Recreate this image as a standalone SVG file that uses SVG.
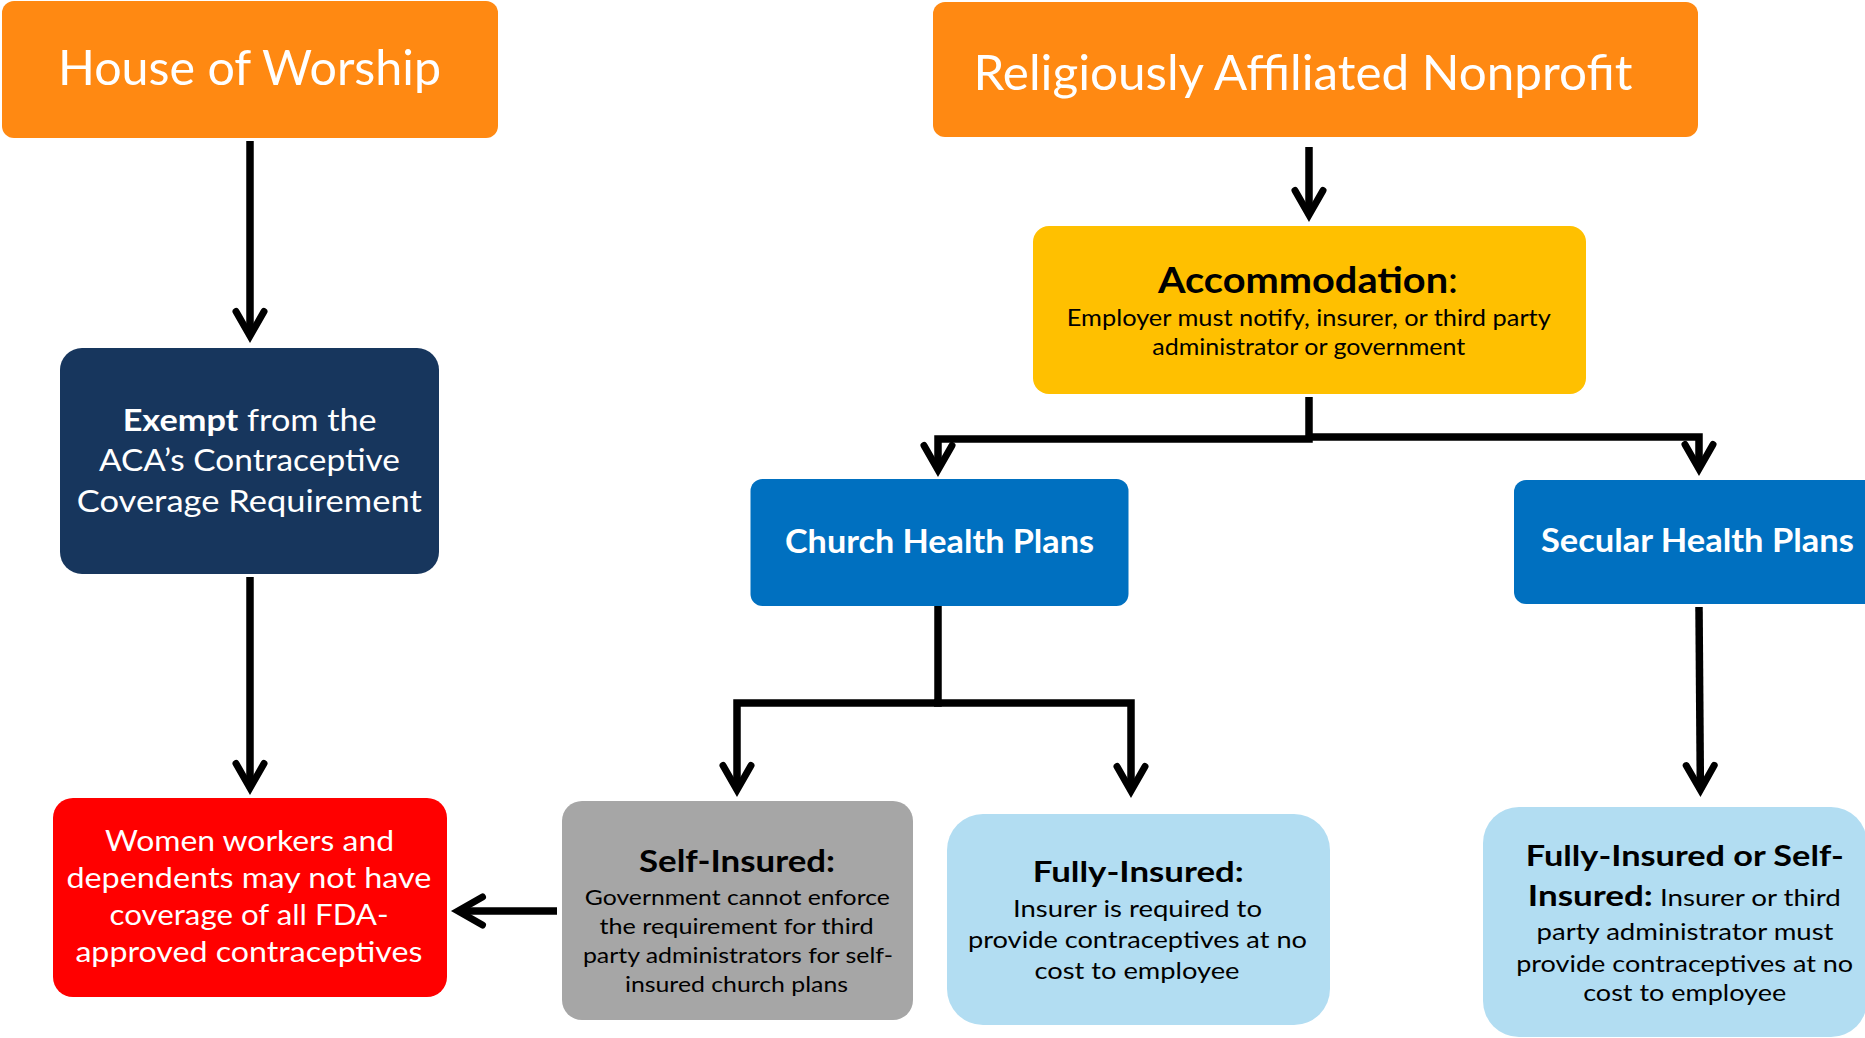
<svg xmlns="http://www.w3.org/2000/svg" width="1865" height="1038" viewBox="0 0 1865 1038">
  <style>
    text { font-family: Lato, "Open Sans", "Liberation Sans", sans-serif; text-anchor: middle; }
    .w { fill: #ffffff; }
    .k { fill: #000000; }
    .b { font-weight: bold; }
    .conn { fill: none; stroke: #000000; stroke-width: 7.5; stroke-linejoin: miter; stroke-linecap: butt; }
  </style>
  <defs>
    <marker id="ah" markerUnits="userSpaceOnUse" orient="auto" refX="0" refY="0"
            markerWidth="70" markerHeight="70" viewBox="-35 -35 70 70" overflow="visible">
      <path d="M -24.5 -14 L 0 0 L -24.5 14" fill="none" stroke="#000000" stroke-width="7"
            stroke-linecap="round" stroke-linejoin="miter" stroke-miterlimit="10"/>
    </marker>
  </defs>

  <rect width="1865" height="1038" fill="#ffffff"/>

  <!-- connectors -->
  <g id="connectors" class="conn">
    <path d="M250 141 V336" marker-end="url(#ah)"/>
    <path d="M250 577 V788" marker-end="url(#ah)"/>
    <path d="M557 911 H458" marker-end="url(#ah)"/>
    <path d="M1309 147 V215" marker-end="url(#ah)"/>
    <path d="M1309 397 V439 H938 V470" marker-end="url(#ah)"/>
    <path d="M1309 437 H1699 V469" marker-end="url(#ah)"/>
    <path d="M938 606 V703 H737 V790" marker-end="url(#ah)"/>
    <path d="M934 703 H1131 V791" marker-end="url(#ah)"/>
    <path d="M1699 607 L1700.4 790" marker-end="url(#ah)"/>
  </g>

  <!-- top level entities -->
  <g id="house-of-worship">
    <rect x="2" y="1" width="496" height="137" rx="12" fill="#FF8912"/>
    <text class="w" x="249.5" y="85" font-size="49" textLength="383" lengthAdjust="spacingAndGlyphs">House of Worship</text>
  </g>

  <g id="religious-nonprofit">
    <rect x="933" y="2" width="765" height="135" rx="12" fill="#FF8912"/>
    <text class="w" x="1303" y="90" font-size="49" textLength="659" lengthAdjust="spacingAndGlyphs">Religiously Affiliated Nonprofit</text>
  </g>

  <g id="exempt">
    <rect x="60" y="348" width="379" height="226" rx="22" fill="#17365D"/>
    <text class="w" x="249.7" y="430.5" font-size="31" textLength="254" lengthAdjust="spacingAndGlyphs"><tspan class="b">Exempt</tspan> from the</text>
    <text class="w" x="249.4" y="470.7" font-size="31" textLength="301" lengthAdjust="spacingAndGlyphs">ACA’s Contraceptive</text>
    <text class="w" x="249.3" y="511.7" font-size="31" textLength="345" lengthAdjust="spacingAndGlyphs">Coverage Requirement</text>
  </g>

  <g id="accommodation">
    <rect x="1033" y="226" width="553" height="168" rx="16" fill="#FFC000"/>
    <text class="k" x="1308" y="292.6" font-size="36" textLength="300" lengthAdjust="spacingAndGlyphs"><tspan class="b">Accommodation</tspan>:</text>
    <text class="k" x="1308.8" y="326" font-size="23" textLength="484" lengthAdjust="spacingAndGlyphs">Employer must notify, insurer,  or third party</text>
    <text class="k" x="1308.8" y="354.7" font-size="23" textLength="313" lengthAdjust="spacingAndGlyphs">administrator or government</text>
  </g>

  <!-- plan types -->
  <g id="church-health-plans">
    <rect x="750.5" y="479" width="378" height="127" rx="12" fill="#0070C0"/>
    <text class="w b" x="939.5" y="552.8" font-size="32" textLength="309" lengthAdjust="spacingAndGlyphs">Church Health Plans</text>
  </g>

  <g id="secular-health-plans">
    <rect x="1514" y="480" width="370" height="124" rx="12" fill="#0070C0"/>
    <text class="w b" x="1697.4" y="551.6" font-size="32" textLength="313" lengthAdjust="spacingAndGlyphs">Secular Health Plans</text>
  </g>

  <!-- outcomes -->
  <g id="coverage-gap">
    <rect x="53" y="798" width="394" height="199" rx="20" fill="#FF0000"/>
    <text class="w" x="249.5" y="850.7" font-size="28" textLength="289" lengthAdjust="spacingAndGlyphs">Women workers and</text>
    <text class="w" x="248.9" y="888" font-size="28" textLength="365" lengthAdjust="spacingAndGlyphs">dependents may not have</text>
    <text class="w" x="249.1" y="925" font-size="28" textLength="279" lengthAdjust="spacingAndGlyphs">coverage of all FDA-</text>
    <text class="w" x="248.9" y="962" font-size="28" textLength="347" lengthAdjust="spacingAndGlyphs">approved contraceptives</text>
  </g>

  <g id="self-insured">
    <rect x="562" y="801" width="351" height="219" rx="20" fill="#A6A6A6"/>
    <text class="k b" x="737" y="872.3" font-size="31" textLength="196" lengthAdjust="spacingAndGlyphs">Self-Insured:</text>
    <text class="k" x="737.3" y="905" font-size="22" textLength="305" lengthAdjust="spacingAndGlyphs">Government cannot enforce</text>
    <text class="k" x="736.5" y="934" font-size="22" textLength="274" lengthAdjust="spacingAndGlyphs">the requirement for third</text>
    <text class="k" x="737.9" y="962.7" font-size="22" textLength="310" lengthAdjust="spacingAndGlyphs">party administrators for self-</text>
    <text class="k" x="736.5" y="991.7" font-size="22" textLength="223" lengthAdjust="spacingAndGlyphs">insured church plans</text>
  </g>

  <g id="fully-insured">
    <rect x="947" y="814" width="383" height="211" rx="36" fill="#B2DDF2"/>
    <text class="k b" x="1138.2" y="881.7" font-size="29" textLength="211" lengthAdjust="spacingAndGlyphs">Fully-Insured:</text>
    <text class="k" x="1137.5" y="916.7" font-size="23" textLength="249" lengthAdjust="spacingAndGlyphs">Insurer is required to</text>
    <text class="k" x="1137.5" y="948" font-size="23" textLength="339" lengthAdjust="spacingAndGlyphs">provide contraceptives at no</text>
    <text class="k" x="1137" y="979" font-size="23" textLength="205" lengthAdjust="spacingAndGlyphs">cost to employee</text>
  </g>

  <g id="secular-outcome">
    <rect x="1483" y="807" width="384" height="230" rx="36" fill="#B2DDF2"/>
    <text class="k b" x="1684.8" y="866" font-size="29" textLength="318" lengthAdjust="spacingAndGlyphs">Fully-Insured or Self-</text>
    <text class="k" x="1684.3" y="905.7" font-size="23" textLength="313" lengthAdjust="spacingAndGlyphs"><tspan class="b" font-size="29">Insured:</tspan> Insurer or third</text>
    <text class="k" x="1685" y="939.5" font-size="23" textLength="297" lengthAdjust="spacingAndGlyphs">party administrator must</text>
    <text class="k" x="1684.7" y="971.7" font-size="23" textLength="337" lengthAdjust="spacingAndGlyphs">provide contraceptives at no</text>
    <text class="k" x="1684.7" y="1001" font-size="23" textLength="203" lengthAdjust="spacingAndGlyphs">cost to employee</text>
  </g>
</svg>
